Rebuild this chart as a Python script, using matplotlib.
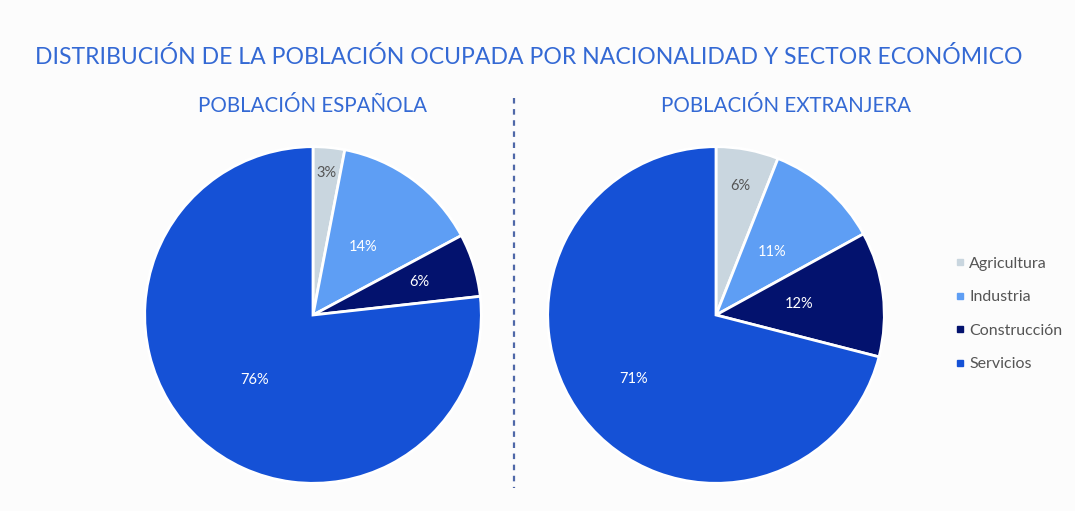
import numpy as np
import matplotlib.pyplot as plt
from matplotlib.lines import Line2D

# Datos
sectores = ['Agricultura', 'Industria', 'Construcción', 'Servicios']
espanola = [3, 14, 6, 76]
extranjera = [6, 11, 12, 71]
colores = ['#c9d6df', '#5e9ef4', '#03126e', '#1551d6']
color_texto = ['#555555', 'white', 'white', 'white']

plt.rcParams['font.family'] = ['Lato', 'DejaVu Sans']

W, H = 1075, 511
fig = plt.figure(figsize=(W / 100, H / 100), dpi=100)
fig.patch.set_facecolor('#fcfcfc')

azul = '#3469d4'
fig.text(35 / W, 1 - 57 / H, 'DISTRIBUCIÓN DE LA POBLACIÓN OCUPADA POR NACIONALIDAD Y SECTOR ECONÓMICO',
         color=azul, fontsize=16.6, va='center', ha='left')


def tarta(cx, cy, r, valores, dist, titulo, tx):
    ax = fig.add_axes([(cx - r) / W, 1 - (cy + r) / H, 2 * r / W, 2 * r / H])
    cunas, _ = ax.pie(valores, colors=colores, startangle=90, counterclock=False,
                      wedgeprops=dict(edgecolor='white', linewidth=2))
    for c, v, d, col in zip(cunas, valores, dist, color_texto):
        ang = np.deg2rad((c.theta1 + c.theta2) / 2)
        ax.text(d * np.cos(ang), d * np.sin(ang), f'{v}%', ha='center', va='center',
                color=col, fontsize=10.5)
    ax.set_xlim(-1.01, 1.01)
    ax.set_ylim(-1.01, 1.01)
    fig.text(tx / W, 1 - 106 / H, titulo, color=azul, fontsize=14.8, ha='center', va='center')
    return ax


tarta(313, 315, 170, espanola, [0.85, 0.5, 0.66, 0.52], 'POBLACIÓN ESPAÑOLA', 312)
tarta(716, 315, 170, extranjera, [0.78, 0.5, 0.5, 0.62], 'POBLACIÓN EXTRANJERA', 786)

# linea divisoria
fig.add_artist(Line2D([514 / W, 514 / W], [1 - 98 / H, 1 - 488 / H], transform=fig.transFigure,
                      color='#4f68a8', linestyle=(0, (2.5, 2.5)), linewidth=1.6))

# leyenda
manejadores = [Line2D([], [], marker='s', linestyle='', color=c, markersize=4) for c in colores]
fig.legend(manejadores, sectores, loc='center left', bbox_to_anchor=(938 / W, 1 - 314 / H),
           frameon=False, fontsize=11.5, labelcolor='#555555', handletextpad=0.05,
           labelspacing=1.2, handlelength=1)

fig.savefig('out.png', dpi=100, facecolor=fig.get_facecolor())
